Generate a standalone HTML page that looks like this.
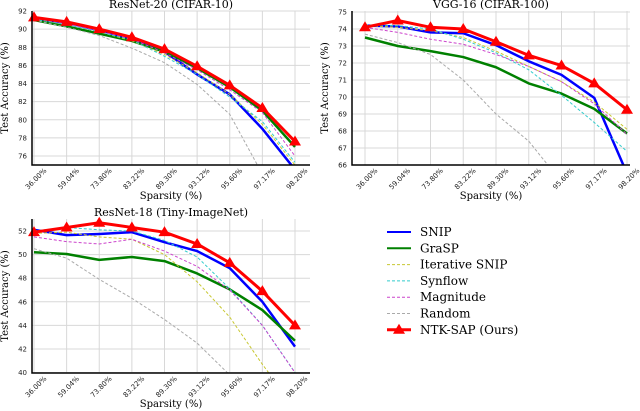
<!DOCTYPE html>
<html><head><meta charset="utf-8"><style>
body{margin:0;background:#fff;overflow:hidden;}
svg{display:block;font-family:"DejaVu Serif","Liberation Serif",serif;}
.tk{font-family:"DejaVu Sans","Liberation Sans",sans-serif;font-size:7px;fill:#222;}
</style></head><body>
<svg id="fig" width="640" height="411" viewBox="0 0 640 411"></svg>
<script>
const categories=["36.00%","59.04%","73.80%","83.22%","89.30%","93.12%","95.60%","97.17%","98.20%"];
const methods=["SNIP","GraSP","Iterative SNIP","Synflow","Magnitude","Random","NTK-SAP (Ours)"];
const c1_snip=[91.2,90.7,89.9,88.9,87.5,85.0,82.8,79.0,74.5];
const c1_grasp=[91.0,90.3,89.5,88.7,87.5,85.7,83.6,81.0,77.0];
const c1_iter=[91.1,90.5,89.7,88.7,87.2,85.2,82.8,79.5,75.0];
const c1_syn=[91.1,90.5,89.7,88.8,87.0,85.0,82.5,79.8,75.3];
const c1_mag=[91.2,90.6,89.8,88.9,87.4,85.5,83.3,80.8,76.0];
const c1_rand=[91.0,90.2,89.3,87.9,86.3,83.9,80.6,74.0,70.0];
const c1_ntk=[91.3,90.8,90.0,89.1,87.8,85.9,83.8,81.3,77.6];
const c2_snip=[74.2,74.15,73.8,73.75,73.05,72.1,71.3,69.95,65.5];
const c2_grasp=[73.5,73.0,72.7,72.35,71.75,70.8,70.2,69.3,67.85];
const c2_iter=[74.2,74.1,73.9,73.5,72.7,71.8,70.9,69.7,68.1];
const c2_syn=[74.25,74.2,74.0,73.4,72.6,71.6,70.1,68.5,66.8];
const c2_mag=[74.1,73.8,73.4,73.1,72.5,71.8,70.9,69.6,67.8];
const c2_rand=[73.7,73.2,72.5,71.0,69.0,67.4,65.0,63.0,61.0];
const c2_ntk=[74.1,74.5,74.1,74.0,73.25,72.45,71.85,70.8,69.25];
const c3_snip=[52.1,51.65,51.75,51.9,51.05,50.3,48.85,46.0,42.2];
const c3_grasp=[50.2,50.05,49.55,49.8,49.45,48.4,47.05,45.3,42.7];
const c3_iter=[51.8,51.9,51.5,51.3,50.0,47.7,44.7,40.7,37.0];
const c3_syn=[52.0,52.3,52.1,52.0,51.2,49.8,47.1,44.0,40.0];
const c3_mag=[51.5,51.1,50.9,51.3,50.3,49.0,47.0,44.0,40.0];
const c3_rand=[50.5,49.7,47.9,46.3,44.5,42.5,39.8,37.0,35.0];
const c3_ntk=[51.9,52.3,52.7,52.3,51.9,50.9,49.3,46.9,44.0];
const c1_ticks=[76,78,80,82,84,86,88,90,92];
const c2_ticks=[66,67,68,69,70,71,72,73,74,75];
const c3_ticks=[40,42,44,46,48,50,52];

const NS="http://www.w3.org/2000/svg";
const svg=document.getElementById('fig');
function mk(tag,attrs,parent){const e=document.createElementNS(NS,tag);for(const k in attrs)e.setAttribute(k,attrs[k]);(parent||svg).appendChild(e);return e;}
const styles=[
 {c:"#0000ff",w:2.5,d:null},{c:"#008000",w:2.5,d:null},{c:"#c8c832",w:1,d:"3,2"},
 {c:"#33cccc",w:1,d:"3,2"},{c:"#cc44cc",w:1,d:"3,2"},{c:"#aaaaaa",w:1,d:"3,2"},{c:"#ff0000",w:3,d:null}];

function chart(id,title,L,R,T,B,x0,x1,yv0,yp0,yv1,yp1,ticks,series){
  const g=mk('g',{});
  
  
  const X=i=>x0+(x1-x0)*i/(categories.length-1);
  const Y=v=>yp0+(v-yv0)*(yp1-yp0)/(yv1-yv0);
  const cp=mk('clipPath',{id:'cp'+id},g);mk('rect',{x:L,y:T,width:R-L,height:B-T},cp);
  categories.forEach((c,i)=>{const l=mk('line',{x1:X(i),x2:X(i),y1:T,y2:B,stroke:"#d8d8d8","stroke-width":1},g);
    
    const tx=X(i)+13,ty=B+6;
    const t=mk('text',{class:'tk',x:tx,y:ty,'text-anchor':'end',transform:`rotate(-45 ${tx} ${ty})`},g);t.textContent=c;
    });
  ticks.forEach(v=>{const y=Y(v);const l=mk('line',{x1:L,x2:R,y1:y,y2:y,stroke:"#d8d8d8","stroke-width":1},g);
    
    const t=mk('text',{class:'tk',x:L-5,y:y+2.5,'text-anchor':'end'},g);t.textContent=v;
    });
  const pg=mk('g',{'clip-path':`url(#cp${id})`},g);
  series.forEach((s,k)=>{const st=styles[k];
    const pts=s.map((v,i)=>X(i)+','+Y(v)).join(' ');
    const a={points:pts,fill:'none',stroke:st.c,'stroke-width':st.w,'stroke-linejoin':'round'};
    if(st.d)a['stroke-dasharray']=st.d;
    const p=mk('polyline',a,pg);
    
    
    if(k==6)s.forEach((v,i)=>{const x=X(i),y=Y(v);const m=mk('polygon',{points:`${x},${y-6} ${x-6},${y+4} ${x+6},${y+4}`,fill:'#ff0000'},g);
      });
  });
  const ax=mk('path',{d:`M${L},${T} V${B} H${R}`,fill:'none',stroke:'#000','stroke-width':1.5},g);
  
  const tt=mk('text',{x:(L+R)/2,y:T-3,'text-anchor':'middle','font-size':11},g);tt.textContent=title;
  
  const xl=mk('text',{x:(L+R)/2,y:B+34,'text-anchor':'middle','font-size':10},g);xl.textContent="Sparsity (%)";
  
  const yx=L-24,yy=(T+B)/2;
  const yl=mk('text',{x:yx,y:yy,'text-anchor':'middle','font-size':10,transform:`rotate(-90 ${yx} ${yy})`},g);yl.textContent="Test Accuracy (%)";
  
}
chart('resnet20-chart','ResNet-20 (CIFAR-10)',32,310,11,165,34,295,76,156,92,11,c1_ticks,[c1_snip,c1_grasp,c1_iter,c1_syn,c1_mag,c1_rand,c1_ntk]);
chart('vgg16-chart','VGG-16 (CIFAR-100)',352,630,11,165,365,627,66,165,75,12,c2_ticks,[c2_snip,c2_grasp,c2_iter,c2_syn,c2_mag,c2_rand,c2_ntk]);
chart('resnet18-chart','ResNet-18 (Tiny-ImageNet)',32,310,219,373,34,295,42,349,52,231,c3_ticks,[c3_snip,c3_grasp,c3_iter,c3_syn,c3_mag,c3_rand,c3_ntk]);

const lg=mk('g',{});


methods.forEach((m,k)=>{const y=232+k*16.3;const st=styles[k];
  const a={x1:387,x2:411,y1:y,y2:y,stroke:st.c,'stroke-width':k==6?3:(st.d?1:2)};if(st.d)a['stroke-dasharray']=st.d;
  const l=mk('line',a,lg);
  
  if(k==6)mk('polygon',{points:`399,${y-6} 393,${y+4} 405,${y+4}`,fill:'#ff0000'},lg);
  const t=mk('text',{x:420,y:y+4,'font-size':12},lg);t.textContent=m;
  });
</script>
</body></html>
